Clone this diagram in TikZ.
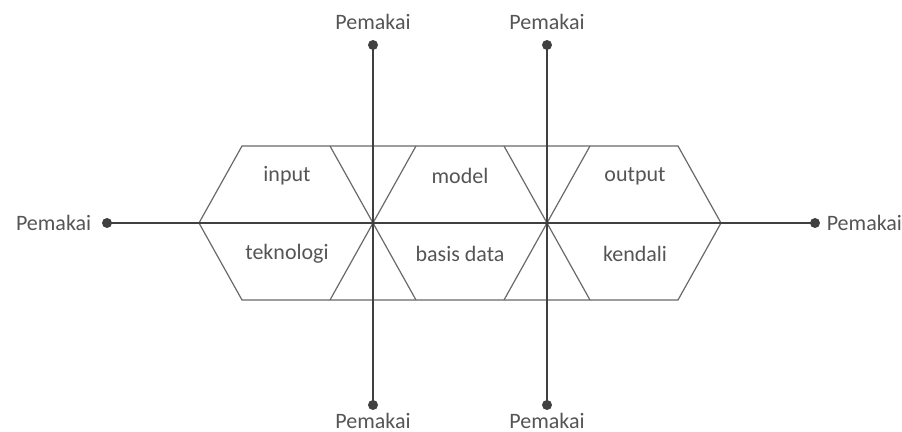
\documentclass[tikz,border=0pt]{standalone}
\usepackage{fontspec}
\setmainfont{Carlito}
\usetikzlibrary{positioning}

\definecolor{axisgray}{RGB}{64,64,64}
\definecolor{hexgray}{RGB}{105,105,105}
\definecolor{textgray}{RGB}{85,85,85}

\tikzset{
  dot/.style={circle, fill=axisgray, inner sep=0pt, minimum size=5pt},
  user/.style={text=textgray, inner sep=0pt, font=\fontsize{11}{13}\selectfont},
  part/.style={text=textgray, font=\fontsize{11}{13}\selectfont},
  axis/.style={color=axisgray, line width=1.4pt},
  hex/.style={color=hexgray, line width=0.6pt}
}

\begin{document}
\begin{tikzpicture}[x=0.5pt, y=-0.5pt]
    \useasboundingbox (0, 0) rectangle (902, 432);

    % draw outer hexagon
    \draw[hex] (242, 146) -- (678, 146) -- (721, 223) -- (678, 300)
       -- (242, 300) -- (199, 223) -- cycle;

    % draw crossing slants
    \draw[hex] (330, 146) -- (416, 300);
    \draw[hex] (416, 146) -- (330, 300);
    \draw[hex] (504, 146) -- (590, 300);
    \draw[hex] (590, 146) -- (504, 300);

    % draw end dots
    \node[dot] (left)  at (107, 223) {};
    \node[dot] (right) at (815, 223) {};
    \node[dot] (topa)  at (373, 45)  {};
    \node[dot] (bota)  at (373, 405) {};
    \node[dot] (topb)  at (547, 45)  {};
    \node[dot] (botb)  at (547, 405) {};

    % draw axes
    \draw[axis] (left.center) -- (right.center);
    \draw[axis] (topa.center) -- (bota.center);
    \draw[axis] (topb.center) -- (botb.center);

    % draw user labels
    \node[user, left=5pt of left]   (uleft)  {Pemakai};
    \node[user, right=3pt of right] (uright) {Pemakai};
    \node[user, above=5pt of topa]  (utopa)  {Pemakai};
    \node[user, above=5pt of topb]  (utopb)  {Pemakai};
    \node[user, below=1pt of bota]  (ubota)  {Pemakai};
    \node[user, below=1pt of botb]  (ubotb)  {Pemakai};

    % draw part labels
    \node[part] (input)  at (287, 176) {input};
    \node[part] (model)  at (460, 176) {model};
    \node[part] (output) at (635, 176) {output};
    \node[part] (tekno)  at (287, 254) {teknologi};
    \node[part] (basis)  at (460, 254) {basis data};
    \node[part] (kendali) at (635, 254) {kendali};
\end{tikzpicture}
\end{document}
